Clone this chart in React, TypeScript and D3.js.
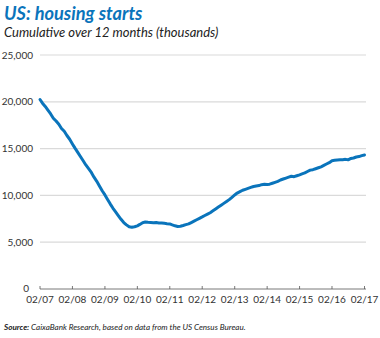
import React from "react";
import * as d3 from "d3";

const startYear = 2007;
const startMonth = 1; // February (0-based)

const values2007 = [20250, 19850, 19500, 19100, 18700, 18250, 17950, 17600, 17150, 16850, 16400];
const values2008 = [16000, 15500, 15050, 14600, 14150, 13700, 13250, 12850, 12450, 11950, 11500, 11000];
const values2009 = [10500, 10050, 9600, 9100, 8650, 8250, 7850, 7450, 7100, 6850, 6650, 6600];
const values2010 = [6650, 6750, 6900, 7080, 7150, 7120, 7100, 7080, 7100, 7060, 7050, 7020];
const values2011 = [6980, 6950, 6850, 6750, 6680, 6700, 6780, 6880, 6960, 7100, 7250, 7400];
const values2012 = [7550, 7700, 7850, 8000, 8150, 8350, 8550, 8750, 8950, 9150, 9350, 9550];
const values2013 = [9800, 10050, 10250, 10400, 10550, 10650, 10750, 10850, 10950, 11000, 11050, 11150];
const values2014 = [11180, 11170, 11200, 11300, 11400, 11500, 11650, 11750, 11850, 11950, 12050, 12000];
const values2015 = [12100, 12200, 12300, 12400, 12550, 12700, 12750, 12850, 12950, 13050, 13200, 13350];
const values2016 = [13500, 13700, 13750, 13780, 13800, 13820, 13850, 13800, 13950, 14000, 14100, 14150];
const values2017 = [14250, 14320];

const series = [
  ...values2007, ...values2008, ...values2009, ...values2010, ...values2011,
  ...values2012, ...values2013, ...values2014, ...values2015, ...values2016, ...values2017,
];

const xTickLabels = ["02/07", "02/08", "02/09", "02/10", "02/11", "02/12", "02/13", "02/14", "02/15", "02/16", "02/17"];
const yTicks = [0, 5000, 10000, 15000, 20000, 25000];

const title = "US: housing starts";
const subtitle = "Cumulative over 12 months (thousands)";

const FONT = "Lato, 'Open Sans', sans-serif";
const BLUE = "#0a74bb";

export default function App() {
  const W = 380, H = 338;
  const left = 40, right = 364.5, top = 55, bottom = 289;

  const data = series.map((v, i) => ({ date: new Date(startYear, startMonth + i, 1), value: v }));

  const x = d3.scaleTime()
    .domain([new Date(2007, 1, 1), new Date(2017, 1, 1)])
    .range([left, right]);
  const y = d3.scaleLinear().domain([0, 25000]).range([bottom, top]);

  const line = d3.line<{ date: Date; value: number }>()
    .x(d => x(d.date))
    .y(d => y(d.value))
    .curve(d3.curveLinear);

  const fmt = d3.format(",");
  const xTicks = xTickLabels.map((lab, i) => ({ lab, date: new Date(2007 + i, 1, 1) }));

  return (
    <svg width={W} height={H} style={{ position: "absolute", left: 0, top: 0, background: "#fff" }}>
      <text x={4} y={20} fontFamily={FONT} fontSize={18.2} fontWeight={700} fontStyle="italic" fill={BLUE}>{title}</text>
      <text x={4} y={36.5} fontFamily={FONT} fontSize={13} fontStyle="italic" fill="#222">{subtitle}</text>

      {yTicks.map(t => (
        <g key={t}>
          {t > 0 && (
            <line x1={left} x2={366} y1={y(t)} y2={y(t)} stroke="#dadada" strokeWidth={1.2} />
          )}
          <text x={t === 0 ? 29 : 33} y={y(t) - (t === 0 ? 1 : 0)} dy="0.35em" textAnchor="end" fontFamily={FONT} fontSize={10} fill="#333">{fmt(t)}</text>
        </g>
      ))}

      <line x1={left} x2={366} y1={bottom} y2={bottom} stroke="#555" strokeWidth={0.8} />
      {xTicks.map(t => (
        <g key={t.lab}>
          <line x1={x(t.date)} x2={x(t.date)} y1={bottom} y2={bottom - 3} stroke="#555" strokeWidth={0.8} />
          <text x={x(t.date)} y={303} textAnchor="middle" fontFamily={FONT} fontSize={10} fill="#333">{t.lab}</text>
        </g>
      ))}

      <path d={line(data) || ""} fill="none" stroke={BLUE} strokeWidth={3} strokeLinejoin="round" strokeLinecap="round" />

      <text x={4} y={330} fontFamily={FONT} fontSize={8.1} fontStyle="italic" fill="#222">
        <tspan fontWeight={700}>Source:</tspan>
        <tspan> CaixaBank Research, based on data from the US Census Bureau.</tspan>
      </text>
    </svg>
  );
}
